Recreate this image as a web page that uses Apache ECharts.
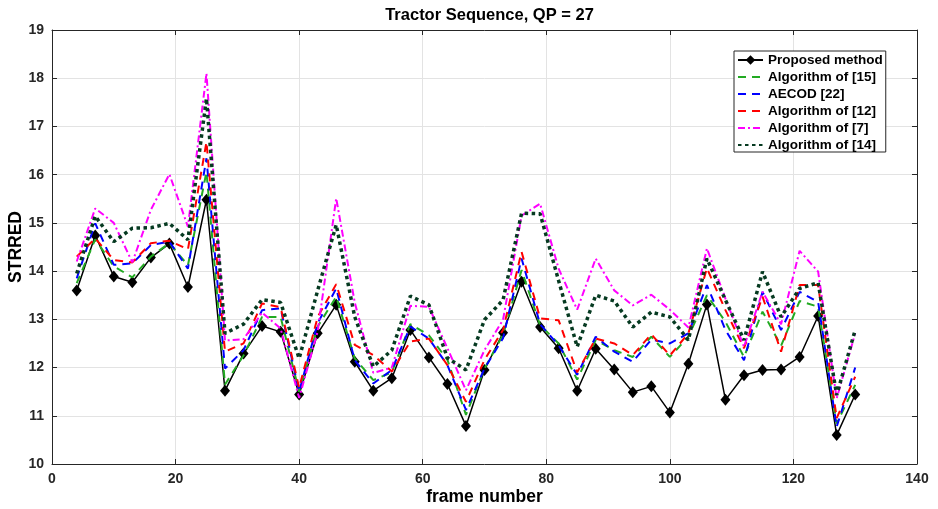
<!DOCTYPE html>
<html>
<head>
<meta charset="utf-8">
<script src="https://cdn.jsdelivr.net/npm/echarts@6/dist/echarts.min.js"></script>
<style>html,body{margin:0;padding:0;background:#fff}#c{width:938px;height:509px}</style>
</head>
<body>
<div id="c"></div>
<script>
const frames = [4,7,10,13,16,19,22,25,28,31,34,37,40,43,46,49,52,55,58,61,64,67,70,73,76,79,82,85,88,91,94,97,100,103,106,109,112,115,118,121,124,127,130];
const proposed = [13.60,14.74,13.89,13.77,14.28,14.57,13.67,15.48,11.52,12.29,12.86,12.74,11.44,12.71,13.30,12.12,11.52,11.78,12.78,12.21,11.66,10.79,11.95,12.72,13.78,12.84,12.40,11.52,12.39,11.96,11.49,11.61,11.07,12.08,13.31,11.33,11.84,11.95,11.96,12.22,13.07,10.60,11.44];
const alg15 = [13.75,14.66,14.10,13.87,14.30,14.58,14.12,16.06,11.65,12.25,13.05,13.05,11.50,12.85,13.47,12.19,11.74,11.90,12.90,12.67,12.16,11.02,11.98,12.68,14.02,12.88,12.50,11.75,12.57,12.36,12.22,12.64,12.22,12.64,13.50,12.95,12.22,13.16,12.45,13.38,13.26,10.84,11.64];
const aecod22 = [13.85,14.99,14.13,14.16,14.54,14.61,14.05,16.34,11.98,12.36,13.19,13.23,11.50,12.92,13.64,12.15,11.67,11.95,12.85,12.60,12.05,11.12,11.98,12.61,14.26,12.90,12.46,11.85,12.64,12.33,12.12,12.58,12.50,12.71,13.71,12.78,12.15,13.57,12.78,13.57,13.36,10.77,12.00];
const alg12 = [14.30,14.68,14.23,14.18,14.58,14.63,14.45,16.68,12.33,12.50,13.33,13.25,11.58,13.05,13.73,12.47,12.26,11.92,12.54,12.60,12.05,11.29,12.16,12.78,14.40,13.02,12.98,11.90,12.60,12.50,12.26,12.69,12.25,12.71,14.06,13.19,12.40,13.47,12.33,13.71,13.71,10.95,11.81];
const alg7 = [14.20,15.30,15.00,14.18,15.27,16.01,14.92,18.10,12.56,12.59,13.14,12.81,11.37,12.75,15.51,13.35,11.89,12.00,13.28,13.26,12.40,11.53,12.36,12.99,15.15,15.40,14.05,13.20,14.26,13.60,13.29,13.51,13.20,12.83,14.47,13.43,12.43,13.57,12.90,14.42,13.99,11.36,12.71];
const alg14 = [13.95,15.14,14.61,14.89,14.90,14.99,14.65,17.58,12.71,12.90,13.41,13.35,12.19,13.60,14.96,13.05,12.02,12.36,13.48,13.30,12.20,11.95,12.99,13.40,15.20,15.19,13.80,12.43,13.50,13.38,12.84,13.15,13.05,12.57,14.26,13.40,12.57,13.99,13.05,13.64,13.76,11.43,12.78];
const seriesNames = ['Proposed method','Algorithm of [15]','AECOD [22]','Algorithm of [12]','Algorithm of [7]','Algorithm of [14]'];
const xTicks = {min:0, max:140, interval:20};
const yTicks = {min:10, max:19, interval:1};

const pairs = arr => frames.map((f,i)=>[f,arr[i]]);
const axisColor = '#262626';
const FONT = 'Liberation Sans, Arial, sans-serif';
const lblStyle = {color: axisColor, fontWeight:'bold', fontSize:14, fontFamily:FONT};

const chart = echarts.init(document.getElementById('c'), null, {renderer:'canvas'});
chart.setOption({
  animation:false,
  backgroundColor:'#fff',
  title:{text:'Tractor Sequence, QP = 27', left:484.5, textAlign:'center', top:2,
    textStyle:{fontSize:16.5, fontWeight:'bold', color:'#000', fontFamily:FONT}},
  grid:{left:52, right:21, top:30, bottom:45, containLabel:false, outerBoundsMode:'none'},
  legend:{
    orient:'vertical', left:734, top:51,
    itemWidth:25, itemHeight:12, itemGap:3,
    padding:[2,3,0,3],
    borderColor:axisColor, borderWidth:1, backgroundColor:'#fff',
    textStyle:{fontSize:13.5, fontWeight:'bold', color:'#000', fontFamily:FONT, lineHeight:12},
    data: seriesNames.map((n,i)=> i===0 ? {name:n} : {name:n, itemStyle:{opacity:0}})
  },
  xAxis:[
    {type:'value', position:'bottom', min:xTicks.min, max:xTicks.max, interval:xTicks.interval,
     name:'frame number', nameLocation:'middle', nameGap:24, nameMoveOverlap:false,
     nameTextStyle:{fontSize:17.5, fontWeight:'bold', color:'#000', fontFamily:FONT},
     axisLine:{onZero:false, lineStyle:{color:axisColor, width:1}},
     axisTick:{inside:true, length:5, lineStyle:{color:axisColor}},
     axisLabel:Object.assign({margin:8}, lblStyle),
     splitLine:{show:true, lineStyle:{color:'#e3e3e3', width:1}}},
    {type:'value', position:'top', min:xTicks.min, max:xTicks.max, interval:xTicks.interval,
     axisLine:{onZero:false, lineStyle:{color:axisColor, width:1}},
     axisTick:{inside:true, length:5, lineStyle:{color:axisColor}},
     axisLabel:{show:false}, splitLine:{show:false}}
  ],
  yAxis:[
    {type:'value', position:'left', min:yTicks.min, max:yTicks.max, interval:yTicks.interval,
     name:'STRRED', nameLocation:'middle', nameGap:27, nameMoveOverlap:false,
     nameTextStyle:{fontSize:17.5, fontWeight:'bold', color:'#000', fontFamily:FONT},
     axisLine:{show:true, onZero:false, lineStyle:{color:axisColor, width:1}},
     axisTick:{show:true, inside:true, length:5, lineStyle:{color:axisColor}},
     axisLabel:Object.assign({margin:8}, lblStyle),
     splitLine:{show:true, lineStyle:{color:'#e3e3e3', width:1}}},
    {type:'value', position:'right', min:yTicks.min, max:yTicks.max, interval:yTicks.interval,
     axisLine:{show:true, onZero:false, lineStyle:{color:axisColor, width:1}},
     axisTick:{show:true, inside:true, length:5, lineStyle:{color:axisColor}},
     axisLabel:{show:false}, splitLine:{show:false}}
  ],
  series:[
    {name:seriesNames[0], type:'line', data:pairs(proposed), symbol:'diamond', symbolSize:[10,12],
     itemStyle:{color:'#000'}, lineStyle:{color:'#000', width:1.5}, z:2},
    {name:seriesNames[1], type:'line', data:pairs(alg15), symbol:'none',
     itemStyle:{color:'#22aa22'}, lineStyle:{color:'#22aa22', width:2, type:[8,6]}, z:3},
    {name:seriesNames[2], type:'line', data:pairs(aecod22), symbol:'none',
     itemStyle:{color:'#0000ff'}, lineStyle:{color:'#0000ff', width:2, type:[8,6]}, z:4},
    {name:seriesNames[3], type:'line', data:pairs(alg12), symbol:'none',
     itemStyle:{color:'#ff0000'}, lineStyle:{color:'#ff0000', width:2, type:[8,6]}, z:5},
    {name:seriesNames[4], type:'line', data:pairs(alg7), symbol:'none',
     itemStyle:{color:'#ff00ff'}, lineStyle:{color:'#ff00ff', width:2, type:[7,3,2,3]}, z:6},
    {name:seriesNames[5], type:'line', data:pairs(alg14), symbol:'none',
     itemStyle:{color:'#063a21'}, lineStyle:{color:'#063a21', width:3.5, type:[3.5,3.5]}, z:7}
  ]
});
</script>
</body>
</html>
